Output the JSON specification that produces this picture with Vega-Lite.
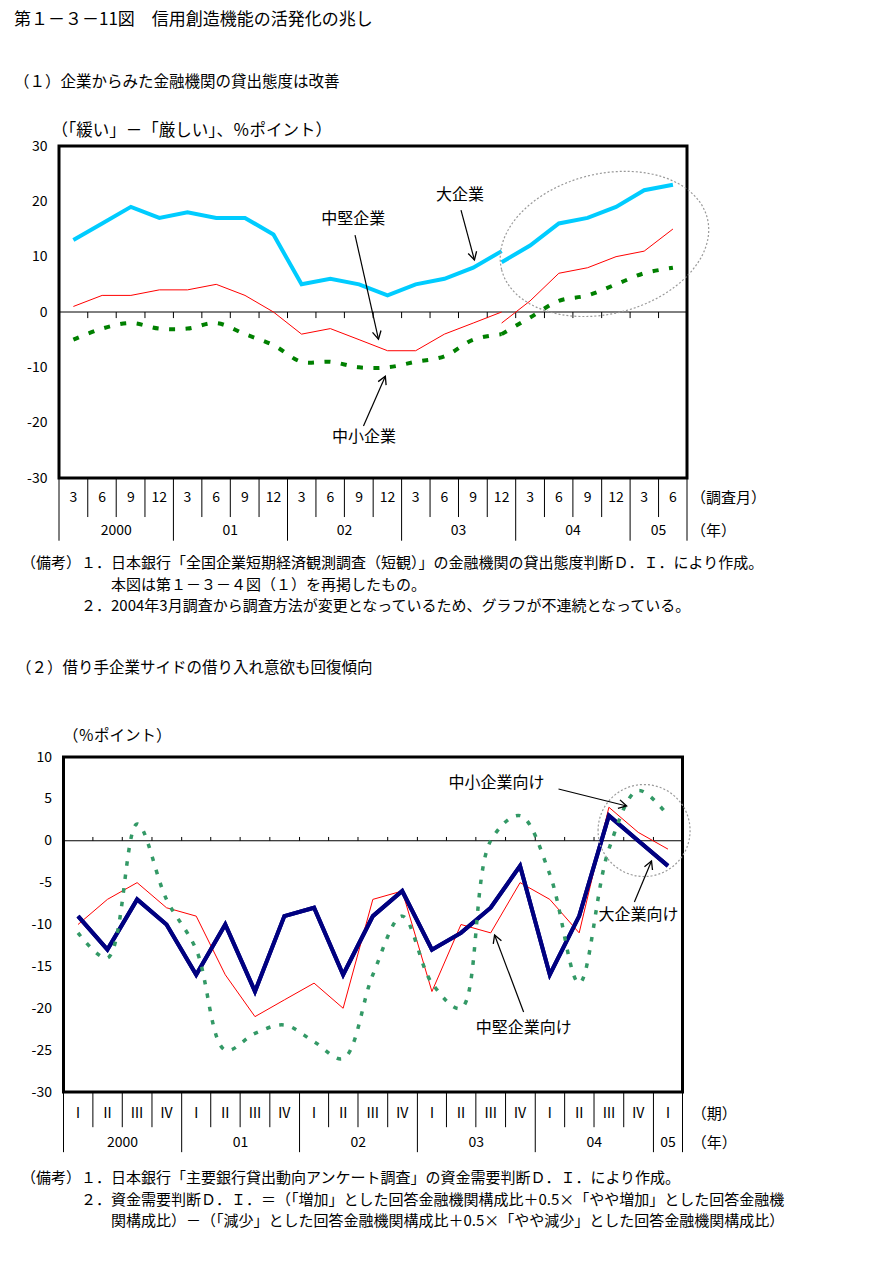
{
  "$schema": "https://vega.github.io/schema/vega-lite/v6.json",
  "background": "#ffffff",
  "padding": {"left": 12, "top": 9, "right": 5, "bottom": 5},
  "bounds": "flush",
  "spacing": 0,
  "center": true,
  "config": {
    "font": "Noto Sans CJK JP",
    "view": {"stroke": null},
    "title": {"fontWeight": "normal", "color": "#000000", "subtitleColor": "#000000", "subtitleFont": "Noto Sans CJK JP", "anchor": "start", "frame": "group"},
    "axis": {"labelColor": "#000000", "titleColor": "#000000", "titleFontWeight": "normal", "labelFont": "Noto Sans CJK JP", "titleFont": "Noto Sans CJK JP"},
    "text": {"color": "#000000"}
  },
  "datasets": {
    "p1": [
      {"d":"2000-03-01","series":"大企業","method":"旧基準","v":13},
      {"d":"2000-06-01","series":"大企業","method":"旧基準","v":16},
      {"d":"2000-09-01","series":"大企業","method":"旧基準","v":19},
      {"d":"2000-12-01","series":"大企業","method":"旧基準","v":17},
      {"d":"2001-03-01","series":"大企業","method":"旧基準","v":18},
      {"d":"2001-06-01","series":"大企業","method":"旧基準","v":17},
      {"d":"2001-09-01","series":"大企業","method":"旧基準","v":17},
      {"d":"2001-12-01","series":"大企業","method":"旧基準","v":14},
      {"d":"2002-03-01","series":"大企業","method":"旧基準","v":5},
      {"d":"2002-06-01","series":"大企業","method":"旧基準","v":6},
      {"d":"2002-09-01","series":"大企業","method":"旧基準","v":5},
      {"d":"2002-12-01","series":"大企業","method":"旧基準","v":3},
      {"d":"2003-03-01","series":"大企業","method":"旧基準","v":5},
      {"d":"2003-06-01","series":"大企業","method":"旧基準","v":6},
      {"d":"2003-09-01","series":"大企業","method":"旧基準","v":8},
      {"d":"2003-12-01","series":"大企業","method":"旧基準","v":11},
      {"d":"2003-12-01","series":"大企業","method":"新基準","v":9},
      {"d":"2004-03-01","series":"大企業","method":"新基準","v":12},
      {"d":"2004-06-01","series":"大企業","method":"新基準","v":16},
      {"d":"2004-09-01","series":"大企業","method":"新基準","v":17},
      {"d":"2004-12-01","series":"大企業","method":"新基準","v":19},
      {"d":"2005-03-01","series":"大企業","method":"新基準","v":22},
      {"d":"2005-06-01","series":"大企業","method":"新基準","v":23},
      {"d":"2000-03-01","series":"中堅企業","method":"旧基準","v":1},
      {"d":"2000-06-01","series":"中堅企業","method":"旧基準","v":3},
      {"d":"2000-09-01","series":"中堅企業","method":"旧基準","v":3},
      {"d":"2000-12-01","series":"中堅企業","method":"旧基準","v":4},
      {"d":"2001-03-01","series":"中堅企業","method":"旧基準","v":4},
      {"d":"2001-06-01","series":"中堅企業","method":"旧基準","v":5},
      {"d":"2001-09-01","series":"中堅企業","method":"旧基準","v":3},
      {"d":"2001-12-01","series":"中堅企業","method":"旧基準","v":0},
      {"d":"2002-03-01","series":"中堅企業","method":"旧基準","v":-4},
      {"d":"2002-06-01","series":"中堅企業","method":"旧基準","v":-3},
      {"d":"2002-09-01","series":"中堅企業","method":"旧基準","v":-5},
      {"d":"2002-12-01","series":"中堅企業","method":"旧基準","v":-7},
      {"d":"2003-03-01","series":"中堅企業","method":"旧基準","v":-7},
      {"d":"2003-06-01","series":"中堅企業","method":"旧基準","v":-4},
      {"d":"2003-09-01","series":"中堅企業","method":"旧基準","v":-2},
      {"d":"2003-12-01","series":"中堅企業","method":"旧基準","v":0},
      {"d":"2003-12-01","series":"中堅企業","method":"新基準","v":-2},
      {"d":"2004-03-01","series":"中堅企業","method":"新基準","v":2},
      {"d":"2004-06-01","series":"中堅企業","method":"新基準","v":7},
      {"d":"2004-09-01","series":"中堅企業","method":"新基準","v":8},
      {"d":"2004-12-01","series":"中堅企業","method":"新基準","v":10},
      {"d":"2005-03-01","series":"中堅企業","method":"新基準","v":11},
      {"d":"2005-06-01","series":"中堅企業","method":"新基準","v":15},
      {"d":"2000-03-01","series":"中小企業","method":"旧基準","v":-5},
      {"d":"2000-06-01","series":"中小企業","method":"旧基準","v":-3},
      {"d":"2000-09-01","series":"中小企業","method":"旧基準","v":-2},
      {"d":"2000-12-01","series":"中小企業","method":"旧基準","v":-3},
      {"d":"2001-03-01","series":"中小企業","method":"旧基準","v":-3},
      {"d":"2001-06-01","series":"中小企業","method":"旧基準","v":-2},
      {"d":"2001-09-01","series":"中小企業","method":"旧基準","v":-4},
      {"d":"2001-12-01","series":"中小企業","method":"旧基準","v":-6},
      {"d":"2002-03-01","series":"中小企業","method":"旧基準","v":-9},
      {"d":"2002-06-01","series":"中小企業","method":"旧基準","v":-9},
      {"d":"2002-09-01","series":"中小企業","method":"旧基準","v":-10},
      {"d":"2002-12-01","series":"中小企業","method":"旧基準","v":-10},
      {"d":"2003-03-01","series":"中小企業","method":"旧基準","v":-9},
      {"d":"2003-06-01","series":"中小企業","method":"旧基準","v":-8},
      {"d":"2003-09-01","series":"中小企業","method":"旧基準","v":-5},
      {"d":"2003-12-01","series":"中小企業","method":"旧基準","v":-4},
      {"d":"2003-12-01","series":"中小企業","method":"新基準","v":-4},
      {"d":"2004-03-01","series":"中小企業","method":"新基準","v":-1},
      {"d":"2004-06-01","series":"中小企業","method":"新基準","v":2},
      {"d":"2004-09-01","series":"中小企業","method":"新基準","v":3},
      {"d":"2004-12-01","series":"中小企業","method":"新基準","v":5},
      {"d":"2005-03-01","series":"中小企業","method":"新基準","v":7},
      {"d":"2005-06-01","series":"中小企業","method":"新基準","v":8}
    ],
    "p1sep": [
      {"d":"2000-01-15","kind":"端"},{"d":"2000-04-16","kind":"月"},{"d":"2000-07-16","kind":"月"},{"d":"2000-10-16","kind":"月"},
      {"d":"2001-01-15","kind":"年"},{"d":"2001-04-16","kind":"月"},{"d":"2001-07-16","kind":"月"},{"d":"2001-10-16","kind":"月"},
      {"d":"2002-01-15","kind":"年"},{"d":"2002-04-16","kind":"月"},{"d":"2002-07-16","kind":"月"},{"d":"2002-10-16","kind":"月"},
      {"d":"2003-01-15","kind":"年"},{"d":"2003-04-16","kind":"月"},{"d":"2003-07-16","kind":"月"},{"d":"2003-10-16","kind":"月"},
      {"d":"2004-01-15","kind":"年"},{"d":"2004-04-16","kind":"月"},{"d":"2004-07-16","kind":"月"},{"d":"2004-10-16","kind":"月"},
      {"d":"2005-01-15","kind":"年"},{"d":"2005-04-16","kind":"月"},{"d":"2005-07-16","kind":"端"}
    ],
    "p1months": [
      {"d":"2000-03-01","label":"3"},{"d":"2000-06-01","label":"6"},{"d":"2000-09-01","label":"9"},{"d":"2000-12-01","label":"12"},
      {"d":"2001-03-01","label":"3"},{"d":"2001-06-01","label":"6"},{"d":"2001-09-01","label":"9"},{"d":"2001-12-01","label":"12"},
      {"d":"2002-03-01","label":"3"},{"d":"2002-06-01","label":"6"},{"d":"2002-09-01","label":"9"},{"d":"2002-12-01","label":"12"},
      {"d":"2003-03-01","label":"3"},{"d":"2003-06-01","label":"6"},{"d":"2003-09-01","label":"9"},{"d":"2003-12-01","label":"12"},
      {"d":"2004-03-01","label":"3"},{"d":"2004-06-01","label":"6"},{"d":"2004-09-01","label":"9"},{"d":"2004-12-01","label":"12"},
      {"d":"2005-03-01","label":"3"},{"d":"2005-06-01","label":"6"}
    ],
    "p1years": [
      {"d":"2000-07-16","label":"2000"},{"d":"2001-07-16","label":"01"},{"d":"2002-07-16","label":"02"},
      {"d":"2003-07-16","label":"03"},{"d":"2004-07-16","label":"04"},{"d":"2005-04-16","label":"05"}
    ],
    "p1units": [
      {"d":"2005-07-29","row":"月","label":"（調査月）"},
      {"d":"2005-07-29","row":"年","label":"（年）"}
    ],
    "p1labels": [
      {"d":"2003-07-21","v":21.1,"label":"大企業"},
      {"d":"2002-08-13","v":16.8,"label":"中堅企業"},
      {"d":"2002-09-17","v":-22.6,"label":"中小企業"}
    ],
    "p1arrows": [
      {"label":"大企業","d":"2003-07-24","v":18.4,"d2":"2003-09-05","v2":9.4},
      {"label":"中堅企業","d":"2002-08-19","v":13.9,"d2":"2002-11-02","v2":-4.9},
      {"label":"中小企業","d":"2002-09-15","v":-20.6,"d2":"2002-11-24","v2":-11.6}
    ],
    "p1ring": [{"d":"2004-10-25","v":12.3}],
    "p2": [
      {"d":"2000-02-15","series":"大企業向け","v":-9},
      {"d":"2000-05-16","series":"大企業向け","v":-13},
      {"d":"2000-08-16","series":"大企業向け","v":-7},
      {"d":"2000-11-15","series":"大企業向け","v":-10},
      {"d":"2001-02-15","series":"大企業向け","v":-16},
      {"d":"2001-05-16","series":"大企業向け","v":-10},
      {"d":"2001-08-16","series":"大企業向け","v":-18},
      {"d":"2001-11-15","series":"大企業向け","v":-9},
      {"d":"2002-02-15","series":"大企業向け","v":-8},
      {"d":"2002-05-16","series":"大企業向け","v":-16},
      {"d":"2002-08-16","series":"大企業向け","v":-9},
      {"d":"2002-11-15","series":"大企業向け","v":-6},
      {"d":"2003-02-15","series":"大企業向け","v":-13},
      {"d":"2003-05-16","series":"大企業向け","v":-11},
      {"d":"2003-08-16","series":"大企業向け","v":-8},
      {"d":"2003-11-15","series":"大企業向け","v":-3},
      {"d":"2004-02-15","series":"大企業向け","v":-16},
      {"d":"2004-05-16","series":"大企業向け","v":-9},
      {"d":"2004-08-16","series":"大企業向け","v":3},
      {"d":"2004-11-15","series":"大企業向け","v":0},
      {"d":"2005-02-15","series":"大企業向け","v":-3},
      {"d":"2000-02-15","series":"中堅企業向け","v":-10},
      {"d":"2000-05-16","series":"中堅企業向け","v":-7},
      {"d":"2000-08-16","series":"中堅企業向け","v":-5},
      {"d":"2000-11-15","series":"中堅企業向け","v":-8},
      {"d":"2001-02-15","series":"中堅企業向け","v":-9},
      {"d":"2001-05-16","series":"中堅企業向け","v":-16},
      {"d":"2001-08-16","series":"中堅企業向け","v":-21},
      {"d":"2001-11-15","series":"中堅企業向け","v":-19},
      {"d":"2002-02-15","series":"中堅企業向け","v":-17},
      {"d":"2002-05-16","series":"中堅企業向け","v":-20},
      {"d":"2002-08-16","series":"中堅企業向け","v":-7},
      {"d":"2002-11-15","series":"中堅企業向け","v":-6},
      {"d":"2003-02-15","series":"中堅企業向け","v":-18},
      {"d":"2003-05-16","series":"中堅企業向け","v":-10},
      {"d":"2003-08-16","series":"中堅企業向け","v":-11},
      {"d":"2003-11-15","series":"中堅企業向け","v":-5},
      {"d":"2004-02-15","series":"中堅企業向け","v":-7},
      {"d":"2004-05-16","series":"中堅企業向け","v":-11},
      {"d":"2004-08-16","series":"中堅企業向け","v":4},
      {"d":"2004-11-15","series":"中堅企業向け","v":1},
      {"d":"2005-02-15","series":"中堅企業向け","v":-1},
      {"d":"2000-02-15","series":"中小企業向け","v":-11},
      {"d":"2000-05-16","series":"中小企業向け","v":-14},
      {"d":"2000-08-16","series":"中小企業向け","v":2},
      {"d":"2000-11-15","series":"中小企業向け","v":-7},
      {"d":"2001-02-15","series":"中小企業向け","v":-13},
      {"d":"2001-05-16","series":"中小企業向け","v":-25},
      {"d":"2001-08-16","series":"中小企業向け","v":-23},
      {"d":"2001-11-15","series":"中小企業向け","v":-22},
      {"d":"2002-02-15","series":"中小企業向け","v":-24},
      {"d":"2002-05-16","series":"中小企業向け","v":-26},
      {"d":"2002-08-16","series":"中小企業向け","v":-16},
      {"d":"2002-11-15","series":"中小企業向け","v":-9},
      {"d":"2003-02-15","series":"中小企業向け","v":-17},
      {"d":"2003-05-16","series":"中小企業向け","v":-20},
      {"d":"2003-08-16","series":"中小企業向け","v":0},
      {"d":"2003-11-15","series":"中小企業向け","v":3},
      {"d":"2004-02-15","series":"中小企業向け","v":-4},
      {"d":"2004-05-16","series":"中小企業向け","v":-17},
      {"d":"2004-08-16","series":"中小企業向け","v":-1},
      {"d":"2004-11-15","series":"中小企業向け","v":6},
      {"d":"2005-02-15","series":"中小企業向け","v":3}
    ],
    "p2sep": [
      {"d":"2000-01-01","kind":"端"},{"d":"2000-04-01","kind":"期"},{"d":"2000-07-01","kind":"期"},{"d":"2000-10-01","kind":"期"},
      {"d":"2001-01-01","kind":"年"},{"d":"2001-04-01","kind":"期"},{"d":"2001-07-01","kind":"期"},{"d":"2001-10-01","kind":"期"},
      {"d":"2002-01-01","kind":"年"},{"d":"2002-04-01","kind":"期"},{"d":"2002-07-01","kind":"期"},{"d":"2002-10-01","kind":"期"},
      {"d":"2003-01-01","kind":"年"},{"d":"2003-04-01","kind":"期"},{"d":"2003-07-01","kind":"期"},{"d":"2003-10-01","kind":"期"},
      {"d":"2004-01-01","kind":"年"},{"d":"2004-04-01","kind":"期"},{"d":"2004-07-01","kind":"期"},{"d":"2004-10-01","kind":"期"},
      {"d":"2005-01-01","kind":"年"},{"d":"2005-04-01","kind":"端"}
    ],
    "p2quarters": [
      {"d":"2000-02-15","label":"Ⅰ"},{"d":"2000-05-16","label":"Ⅱ"},{"d":"2000-08-16","label":"Ⅲ"},{"d":"2000-11-15","label":"Ⅳ"},
      {"d":"2001-02-15","label":"Ⅰ"},{"d":"2001-05-16","label":"Ⅱ"},{"d":"2001-08-16","label":"Ⅲ"},{"d":"2001-11-15","label":"Ⅳ"},
      {"d":"2002-02-15","label":"Ⅰ"},{"d":"2002-05-16","label":"Ⅱ"},{"d":"2002-08-16","label":"Ⅲ"},{"d":"2002-11-15","label":"Ⅳ"},
      {"d":"2003-02-15","label":"Ⅰ"},{"d":"2003-05-16","label":"Ⅱ"},{"d":"2003-08-16","label":"Ⅲ"},{"d":"2003-11-15","label":"Ⅳ"},
      {"d":"2004-02-15","label":"Ⅰ"},{"d":"2004-05-16","label":"Ⅱ"},{"d":"2004-08-16","label":"Ⅲ"},{"d":"2004-11-15","label":"Ⅳ"},
      {"d":"2005-02-15","label":"Ⅰ"}
    ],
    "p2years": [
      {"d":"2000-07-02","label":"2000"},{"d":"2001-07-02","label":"01"},{"d":"2002-07-02","label":"02"},
      {"d":"2003-07-02","label":"03"},{"d":"2004-07-02","label":"04"},{"d":"2005-02-15","label":"05"}
    ],
    "p2units": [
      {"d":"2005-04-30","row":"期","label":"（期）"},
      {"d":"2005-04-30","row":"年","label":"（年）"}
    ],
    "p2labels": [
      {"d":"2003-09-03","v":6.9,"label":"中小企業向け"},
      {"d":"2004-11-16","v":-8.87,"label":"大企業向け"},
      {"d":"2003-11-26","v":-22.36,"label":"中堅企業向け"}
    ],
    "p2arrows": [
      {"label":"中小企業向け","d":"2004-03-13","v":6.18,"d2":"2004-10-10","v2":4.15},
      {"label":"大企業向け","d":"2004-11-03","v":-7.31,"d2":"2004-12-26","v2":-2.42},
      {"label":"中堅企業向け","d":"2003-11-26","v":-20.45,"d2":"2003-08-28","v2":-11.25}
    ],
    "p2ring": [{"d":"2004-12-03","v":1.22}]
  },
  "vconcat": [
    {
      "width": 628,
      "height": 332,
      "view": {"stroke": "#000000", "strokeWidth": 3},
      "title": {"text": "第１－３－11図　信用創造機能の活発化の兆し", "subtitle": "（１）企業からみた金融機関の貸出態度は改善", "dx": -45, "offset": 31, "fontSize": 17, "subtitleFontSize": 15.5, "subtitlePadding": 46},
      "layer": [
        {
          "data": {"name": "p1"},
          "transform": [{"filter": "datum.series === '大企業'"}],
          "mark": {"type": "line", "color": "#00CCFF", "strokeWidth": 4},
          "encoding": {
            "x": {"field": "d", "type": "temporal", "scale": {"domain": [{"year": 2000, "month": 1, "date": 15, "utc": true}, {"year": 2005, "month": 7, "date": 16, "utc": true}], "nice": false}, "axis": null},
            "y": {"field": "v", "type": "quantitative", "scale": {"domain": [-30, 30], "nice": false, "zero": false},
              "axis": {"values": [-30, -20, -10, 0, 10, 20, 30], "ticks": false, "domain": false, "grid": false, "labelPadding": 12, "labelFontSize": 14, "labelFlush": false, "labelOverlap": false, "labelExpr": "'' + datum.value", "title": "（「緩い」－「厳しい」、％ポイント）", "titleAngle": 0, "titleAlign": "left", "titleBaseline": "middle", "titleX": -8, "titleY": -16, "titleFontSize": 16.5}},
            "detail": {"field": "method"}
          }
        },
        {
          "data": {"values": [{}]},
          "mark": {"type": "rule", "color": "#000000", "strokeWidth": 1},
          "encoding": {"y": {"datum": 0}}
        },
        {
          "data": {"name": "p1sep"},
          "transform": [{"filter": "datum.kind !== '端'"}],
          "mark": {"type": "rule", "color": "#000000", "strokeWidth": 1},
          "encoding": {
            "x": {"field": "d", "type": "temporal", "scale": {"domain": [{"year": 2000, "month": 1, "date": 15, "utc": true}, {"year": 2005, "month": 7, "date": 16, "utc": true}], "nice": false}, "axis": null},
            "y": {"datum": 0},
            "y2": {"datum": -1.1}
          }
        },
        {
          "data": {"name": "p1"},
          "transform": [{"filter": "datum.series === '中堅企業'"}],
          "mark": {"type": "line", "color": "#FF0000", "strokeWidth": 1},
          "encoding": {
            "x": {"field": "d", "type": "temporal", "scale": {"domain": [{"year": 2000, "month": 1, "date": 15, "utc": true}, {"year": 2005, "month": 7, "date": 16, "utc": true}], "nice": false}, "axis": null},
            "y": {"field": "v", "type": "quantitative", "scale": {"domain": [-30, 30], "nice": false, "zero": false}},
            "detail": {"field": "method"}
          }
        },
        {
          "data": {"name": "p1"},
          "transform": [{"filter": "datum.series === '中小企業'"}],
          "mark": {"type": "line", "color": "#008000", "strokeWidth": 4, "strokeDash": [6, 10.5], "interpolate": "catmull-rom"},
          "encoding": {
            "x": {"field": "d", "type": "temporal", "scale": {"domain": [{"year": 2000, "month": 1, "date": 15, "utc": true}, {"year": 2005, "month": 7, "date": 16, "utc": true}], "nice": false}, "axis": null},
            "y": {"field": "v", "type": "quantitative", "scale": {"domain": [-30, 30], "nice": false, "zero": false}},
            "detail": {"field": "method"}
          }
        },
        {
          "data": {"name": "p1ring"},
          "mark": {"type": "point", "shape": "M-1,0C-1,-0.3645,-0.5523,-0.66,0,-0.66C0.5523,-0.66,1,-0.3645,1,0C1,0.3645,0.5523,0.66,0,0.66C-0.5523,0.66,-1,0.3645,-1,0Z", "size": 44944, "angle": -14, "filled": false, "stroke": "#999999", "strokeWidth": 1.2, "strokeDash": [2, 2], "opacity": 1},
          "encoding": {
            "x": {"field": "d", "type": "temporal", "scale": {"domain": [{"year": 2000, "month": 1, "date": 15, "utc": true}, {"year": 2005, "month": 7, "date": 16, "utc": true}], "nice": false}, "axis": null},
            "y": {"field": "v", "type": "quantitative", "scale": {"domain": [-30, 30], "nice": false, "zero": false}}
          }
        },
        {
          "data": {"name": "p1arrows"},
          "mark": {"type": "rule", "color": "#000000", "strokeWidth": 1.2},
          "encoding": {
            "x": {"field": "d", "type": "temporal", "scale": {"domain": [{"year": 2000, "month": 1, "date": 15, "utc": true}, {"year": 2005, "month": 7, "date": 16, "utc": true}], "nice": false}, "axis": null},
            "y": {"field": "v", "type": "quantitative", "scale": {"domain": [-30, 30], "nice": false, "zero": false}},
            "x2": {"field": "d2"},
            "y2": {"field": "v2"}
          }
        },
        {
          "data": {"name": "p1arrows"},
          "transform": [{"filter": "datum.label === '大企業'"}],
          "mark": {"type": "point", "shape": "M-1,-0.55L0,0L-1,0.55", "size": 250, "angle": 75, "filled": false, "stroke": "#000000", "strokeWidth": 1.3, "opacity": 1},
          "encoding": {
            "x": {"field": "d2", "type": "temporal", "scale": {"domain": [{"year": 2000, "month": 1, "date": 15, "utc": true}, {"year": 2005, "month": 7, "date": 16, "utc": true}], "nice": false}, "axis": null},
            "y": {"field": "v2", "type": "quantitative", "scale": {"domain": [-30, 30], "nice": false, "zero": false}}
          }
        },
        {
          "data": {"name": "p1arrows"},
          "transform": [{"filter": "datum.label === '中堅企業'"}],
          "mark": {"type": "point", "shape": "M-1,-0.55L0,0L-1,0.55", "size": 250, "angle": 77.5, "filled": false, "stroke": "#000000", "strokeWidth": 1.3, "opacity": 1},
          "encoding": {
            "x": {"field": "d2", "type": "temporal", "scale": {"domain": [{"year": 2000, "month": 1, "date": 15, "utc": true}, {"year": 2005, "month": 7, "date": 16, "utc": true}], "nice": false}, "axis": null},
            "y": {"field": "v2", "type": "quantitative", "scale": {"domain": [-30, 30], "nice": false, "zero": false}}
          }
        },
        {
          "data": {"name": "p1arrows"},
          "transform": [{"filter": "datum.label === '中小企業'"}],
          "mark": {"type": "point", "shape": "M-1,-0.55L0,0L-1,0.55", "size": 250, "angle": -66, "filled": false, "stroke": "#000000", "strokeWidth": 1.3, "opacity": 1},
          "encoding": {
            "x": {"field": "d2", "type": "temporal", "scale": {"domain": [{"year": 2000, "month": 1, "date": 15, "utc": true}, {"year": 2005, "month": 7, "date": 16, "utc": true}], "nice": false}, "axis": null},
            "y": {"field": "v2", "type": "quantitative", "scale": {"domain": [-30, 30], "nice": false, "zero": false}}
          }
        },
        {
          "data": {"name": "p1labels"},
          "mark": {"type": "text", "fontSize": 16, "align": "center", "baseline": "middle"},
          "encoding": {
            "x": {"field": "d", "type": "temporal", "scale": {"domain": [{"year": 2000, "month": 1, "date": 15, "utc": true}, {"year": 2005, "month": 7, "date": 16, "utc": true}], "nice": false}, "axis": null},
            "y": {"field": "v", "type": "quantitative", "scale": {"domain": [-30, 30], "nice": false, "zero": false}},
            "text": {"field": "label"}
          }
        }
      ]
    },
    {
      "width": 628,
      "height": 279,
      "title": {"text": ["（備考）１．日本銀行「全国企業短期経済観測調査（短観）」の金融機関の貸出態度判断Ｄ．Ｉ．により作成。", "\u200b　　　　　　本図は第１－３－４図（１）を再掲したもの。", "\u200b　　　　２．2004年3月調査から調査方法が変更となっているため、グラフが不連続となっている。"], "orient": "bottom", "dx": -38, "offset": -201, "fontSize": 15, "lineHeight": 21.5},
      "layer": [
        {
          "data": {"name": "p1sep"},
          "transform": [{"filter": "datum.kind === '月'"}],
          "mark": {"type": "rule", "color": "#000000", "strokeWidth": 1},
          "encoding": {
            "x": {"field": "d", "type": "temporal", "scale": {"domain": [{"year": 2000, "month": 1, "date": 15, "utc": true}, {"year": 2005, "month": 7, "date": 16, "utc": true}], "nice": false}, "axis": null},
            "y": {"datum": 0, "type": "quantitative", "scale": {"domain": [0, 8.72], "reverse": true, "nice": false, "zero": false}, "axis": null},
            "y2": {"datum": 1.22}
          }
        },
        {
          "data": {"name": "p1sep"},
          "transform": [{"filter": "datum.kind !== '月'"}],
          "mark": {"type": "rule", "color": "#000000", "strokeWidth": 1},
          "encoding": {
            "x": {"field": "d", "type": "temporal", "scale": {"domain": [{"year": 2000, "month": 1, "date": 15, "utc": true}, {"year": 2005, "month": 7, "date": 16, "utc": true}], "nice": false}, "axis": null},
            "y": {"datum": 0, "type": "quantitative"},
            "y2": {"datum": 1.96}
          }
        },
        {
          "data": {"name": "p1months"},
          "mark": {"type": "text", "fontSize": 14, "align": "center", "baseline": "middle"},
          "encoding": {
            "x": {"field": "d", "type": "temporal", "scale": {"domain": [{"year": 2000, "month": 1, "date": 15, "utc": true}, {"year": 2005, "month": 7, "date": 16, "utc": true}], "nice": false}, "axis": null},
            "y": {"datum": 0.62, "type": "quantitative"},
            "text": {"field": "label"}
          }
        },
        {
          "data": {"name": "p1years"},
          "mark": {"type": "text", "fontSize": 14, "align": "center", "baseline": "middle"},
          "encoding": {
            "x": {"field": "d", "type": "temporal", "scale": {"domain": [{"year": 2000, "month": 1, "date": 15, "utc": true}, {"year": 2005, "month": 7, "date": 16, "utc": true}], "nice": false}, "axis": null},
            "y": {"datum": 1.65, "type": "quantitative"},
            "text": {"field": "label"}
          }
        },
        {
          "data": {"name": "p1units"},
          "transform": [{"filter": "datum.row === '月'"}],
          "mark": {"type": "text", "fontSize": 15, "align": "left", "baseline": "middle"},
          "encoding": {
            "x": {"field": "d", "type": "temporal", "scale": {"domain": [{"year": 2000, "month": 1, "date": 15, "utc": true}, {"year": 2005, "month": 7, "date": 16, "utc": true}], "nice": false}, "axis": null},
            "y": {"datum": 0.62, "type": "quantitative"},
            "text": {"field": "label"}
          }
        },
        {
          "data": {"name": "p1units"},
          "transform": [{"filter": "datum.row === '年'"}],
          "mark": {"type": "text", "fontSize": 15, "align": "left", "baseline": "middle"},
          "encoding": {
            "x": {"field": "d", "type": "temporal", "scale": {"domain": [{"year": 2000, "month": 1, "date": 15, "utc": true}, {"year": 2005, "month": 7, "date": 16, "utc": true}], "nice": false}, "axis": null},
            "y": {"datum": 1.65, "type": "quantitative"},
            "text": {"field": "label"}
          }
        }
      ]
    },
    {
      "width": 619,
      "height": 335,
      "view": {"stroke": "#000000", "strokeWidth": 3},
      "title": {"text": "（２）借り手企業サイドの借り入れ意欲も回復傾向", "dx": -47.5, "offset": 52, "fontSize": 15.5},
      "layer": [
        {
          "data": {"name": "p2"},
          "transform": [{"filter": "datum.series === '大企業向け'"}],
          "mark": {"type": "line", "color": "#000080", "strokeWidth": 4},
          "encoding": {
            "x": {"field": "d", "type": "temporal", "scale": {"domain": [{"year": 2000, "month": 1, "date": 1, "utc": true}, {"year": 2005, "month": 4, "date": 1, "utc": true}], "nice": false}, "axis": null},
            "y": {"field": "v", "type": "quantitative", "scale": {"domain": [-30, 10], "nice": false, "zero": false},
              "axis": {"values": [-30, -25, -20, -15, -10, -5, 0, 5, 10], "ticks": false, "domain": false, "grid": false, "labelPadding": 12, "labelFontSize": 14, "labelFlush": false, "labelOverlap": false, "labelExpr": "'' + datum.value", "title": "（％ポイント）", "titleAngle": 0, "titleAlign": "left", "titleBaseline": "middle", "titleX": -1, "titleY": -22, "titleFontSize": 15.5}}
          }
        },
        {
          "data": {"values": [{}]},
          "mark": {"type": "rule", "color": "#000000", "strokeWidth": 1},
          "encoding": {"y": {"datum": 0}}
        },
        {
          "data": {"name": "p2sep"},
          "transform": [{"filter": "datum.kind !== '端'"}],
          "mark": {"type": "rule", "color": "#000000", "strokeWidth": 1},
          "encoding": {
            "x": {"field": "d", "type": "temporal", "scale": {"domain": [{"year": 2000, "month": 1, "date": 1, "utc": true}, {"year": 2005, "month": 4, "date": 1, "utc": true}], "nice": false}, "axis": null},
            "y": {"datum": 0},
            "y2": {"datum": 0.45}
          }
        },
        {
          "data": {"name": "p2"},
          "transform": [{"filter": "datum.series === '中堅企業向け'"}],
          "mark": {"type": "line", "color": "#FF0000", "strokeWidth": 1},
          "encoding": {
            "x": {"field": "d", "type": "temporal", "scale": {"domain": [{"year": 2000, "month": 1, "date": 1, "utc": true}, {"year": 2005, "month": 4, "date": 1, "utc": true}], "nice": false}, "axis": null},
            "y": {"field": "v", "type": "quantitative", "scale": {"domain": [-30, 10], "nice": false, "zero": false}}
          }
        },
        {
          "data": {"name": "p2"},
          "transform": [{"filter": "datum.series === '大企業向け'"}],
          "mark": {"type": "line", "color": "#000080", "strokeWidth": 4},
          "encoding": {
            "x": {"field": "d", "type": "temporal", "scale": {"domain": [{"year": 2000, "month": 1, "date": 1, "utc": true}, {"year": 2005, "month": 4, "date": 1, "utc": true}], "nice": false}, "axis": null},
            "y": {"field": "v", "type": "quantitative", "scale": {"domain": [-30, 10], "nice": false, "zero": false}}
          }
        },
        {
          "data": {"name": "p2"},
          "transform": [{"filter": "datum.series === '中小企業向け'"}],
          "mark": {"type": "line", "color": "#339966", "strokeWidth": 3.5, "strokeDash": [4.5, 9], "interpolate": "catmull-rom"},
          "encoding": {
            "x": {"field": "d", "type": "temporal", "scale": {"domain": [{"year": 2000, "month": 1, "date": 1, "utc": true}, {"year": 2005, "month": 4, "date": 1, "utc": true}], "nice": false}, "axis": null},
            "y": {"field": "v", "type": "quantitative", "scale": {"domain": [-30, 10], "nice": false, "zero": false}}
          }
        },
        {
          "data": {"name": "p2ring"},
          "mark": {"type": "point", "shape": "M-1,0C-1,-0.5523,-0.5523,-1,0,-1C0.5523,-1,1,-0.5523,1,0C1,0.5523,0.5523,1,0,1C-0.5523,1,-1,0.5523,-1,0Z", "size": 8464, "filled": false, "stroke": "#999999", "strokeWidth": 1.2, "strokeDash": [2, 2], "opacity": 1},
          "encoding": {
            "x": {"field": "d", "type": "temporal", "scale": {"domain": [{"year": 2000, "month": 1, "date": 1, "utc": true}, {"year": 2005, "month": 4, "date": 1, "utc": true}], "nice": false}, "axis": null},
            "y": {"field": "v", "type": "quantitative", "scale": {"domain": [-30, 10], "nice": false, "zero": false}}
          }
        },
        {
          "data": {"name": "p2arrows"},
          "mark": {"type": "rule", "color": "#000000", "strokeWidth": 1.2},
          "encoding": {
            "x": {"field": "d", "type": "temporal", "scale": {"domain": [{"year": 2000, "month": 1, "date": 1, "utc": true}, {"year": 2005, "month": 4, "date": 1, "utc": true}], "nice": false}, "axis": null},
            "y": {"field": "v", "type": "quantitative", "scale": {"domain": [-30, 10], "nice": false, "zero": false}},
            "x2": {"field": "d2"},
            "y2": {"field": "v2"}
          }
        },
        {
          "data": {"name": "p2arrows"},
          "transform": [{"filter": "datum.label === '中小企業向け'"}],
          "mark": {"type": "point", "shape": "M-1,-0.55L0,0L-1,0.55", "size": 250, "angle": 14, "filled": false, "stroke": "#000000", "strokeWidth": 1.3, "opacity": 1},
          "encoding": {
            "x": {"field": "d2", "type": "temporal", "scale": {"domain": [{"year": 2000, "month": 1, "date": 1, "utc": true}, {"year": 2005, "month": 4, "date": 1, "utc": true}], "nice": false}, "axis": null},
            "y": {"field": "v2", "type": "quantitative", "scale": {"domain": [-30, 10], "nice": false, "zero": false}}
          }
        },
        {
          "data": {"name": "p2arrows"},
          "transform": [{"filter": "datum.label === '大企業向け'"}],
          "mark": {"type": "point", "shape": "M-1,-0.55L0,0L-1,0.55", "size": 250, "angle": -67.5, "filled": false, "stroke": "#000000", "strokeWidth": 1.3, "opacity": 1},
          "encoding": {
            "x": {"field": "d2", "type": "temporal", "scale": {"domain": [{"year": 2000, "month": 1, "date": 1, "utc": true}, {"year": 2005, "month": 4, "date": 1, "utc": true}], "nice": false}, "axis": null},
            "y": {"field": "v2", "type": "quantitative", "scale": {"domain": [-30, 10], "nice": false, "zero": false}}
          }
        },
        {
          "data": {"name": "p2arrows"},
          "transform": [{"filter": "datum.label === '中堅企業向け'"}],
          "mark": {"type": "point", "shape": "M-1,-0.55L0,0L-1,0.55", "size": 250, "angle": -110.6, "filled": false, "stroke": "#000000", "strokeWidth": 1.3, "opacity": 1},
          "encoding": {
            "x": {"field": "d2", "type": "temporal", "scale": {"domain": [{"year": 2000, "month": 1, "date": 1, "utc": true}, {"year": 2005, "month": 4, "date": 1, "utc": true}], "nice": false}, "axis": null},
            "y": {"field": "v2", "type": "quantitative", "scale": {"domain": [-30, 10], "nice": false, "zero": false}}
          }
        },
        {
          "data": {"name": "p2labels"},
          "mark": {"type": "text", "fontSize": 16, "align": "center", "baseline": "middle"},
          "encoding": {
            "x": {"field": "d", "type": "temporal", "scale": {"domain": [{"year": 2000, "month": 1, "date": 1, "utc": true}, {"year": 2005, "month": 4, "date": 1, "utc": true}], "nice": false}, "axis": null},
            "y": {"field": "v", "type": "quantitative", "scale": {"domain": [-30, 10], "nice": false, "zero": false}},
            "text": {"field": "label"}
          }
        }
      ]
    },
    {
      "width": 619,
      "height": 64,
      "title": {"text": ["（備考）１．日本銀行「主要銀行貸出動向アンケート調査」の資金需要判断Ｄ．Ｉ．により作成。", "\u200b　　　　２．資金需要判断Ｄ．Ｉ．＝（「増加」とした回答金融機関構成比＋0.5×「やや増加」とした回答金融機", "\u200b　　　　　　関構成比）－（「減少」とした回答金融機関構成比＋0.5×「やや減少」とした回答金融機関構成比）"], "orient": "bottom", "dx": -42.5, "offset": 15, "fontSize": 15, "lineHeight": 21.5},
      "layer": [
        {
          "data": {"name": "p2sep"},
          "transform": [{"filter": "datum.kind === '期'"}],
          "mark": {"type": "rule", "color": "#000000", "strokeWidth": 1},
          "encoding": {
            "x": {"field": "d", "type": "temporal", "scale": {"domain": [{"year": 2000, "month": 1, "date": 1, "utc": true}, {"year": 2005, "month": 4, "date": 1, "utc": true}], "nice": false}, "axis": null},
            "y": {"datum": 0, "type": "quantitative", "scale": {"domain": [0, 2], "reverse": true, "nice": false, "zero": false}, "axis": null},
            "y2": {"datum": 1.1}
          }
        },
        {
          "data": {"name": "p2sep"},
          "transform": [{"filter": "datum.kind !== '期'"}],
          "mark": {"type": "rule", "color": "#000000", "strokeWidth": 1},
          "encoding": {
            "x": {"field": "d", "type": "temporal", "scale": {"domain": [{"year": 2000, "month": 1, "date": 1, "utc": true}, {"year": 2005, "month": 4, "date": 1, "utc": true}], "nice": false}, "axis": null},
            "y": {"datum": 0, "type": "quantitative"},
            "y2": {"datum": 1.88}
          }
        },
        {
          "data": {"name": "p2quarters"},
          "mark": {"type": "text", "fontSize": 14, "align": "center", "baseline": "middle"},
          "encoding": {
            "x": {"field": "d", "type": "temporal", "scale": {"domain": [{"year": 2000, "month": 1, "date": 1, "utc": true}, {"year": 2005, "month": 4, "date": 1, "utc": true}], "nice": false}, "axis": null},
            "y": {"datum": 0.7, "type": "quantitative"},
            "text": {"field": "label"}
          }
        },
        {
          "data": {"name": "p2years"},
          "mark": {"type": "text", "fontSize": 14, "align": "center", "baseline": "middle"},
          "encoding": {
            "x": {"field": "d", "type": "temporal", "scale": {"domain": [{"year": 2000, "month": 1, "date": 1, "utc": true}, {"year": 2005, "month": 4, "date": 1, "utc": true}], "nice": false}, "axis": null},
            "y": {"datum": 1.6, "type": "quantitative"},
            "text": {"field": "label"}
          }
        },
        {
          "data": {"name": "p2units"},
          "transform": [{"filter": "datum.row === '期'"}],
          "mark": {"type": "text", "fontSize": 15, "align": "left", "baseline": "middle"},
          "encoding": {
            "x": {"field": "d", "type": "temporal", "scale": {"domain": [{"year": 2000, "month": 1, "date": 1, "utc": true}, {"year": 2005, "month": 4, "date": 1, "utc": true}], "nice": false}, "axis": null},
            "y": {"datum": 0.7, "type": "quantitative"},
            "text": {"field": "label"}
          }
        },
        {
          "data": {"name": "p2units"},
          "transform": [{"filter": "datum.row === '年'"}],
          "mark": {"type": "text", "fontSize": 15, "align": "left", "baseline": "middle"},
          "encoding": {
            "x": {"field": "d", "type": "temporal", "scale": {"domain": [{"year": 2000, "month": 1, "date": 1, "utc": true}, {"year": 2005, "month": 4, "date": 1, "utc": true}], "nice": false}, "axis": null},
            "y": {"datum": 1.6, "type": "quantitative"},
            "text": {"field": "label"}
          }
        }
      ]
    }
  ]
}
